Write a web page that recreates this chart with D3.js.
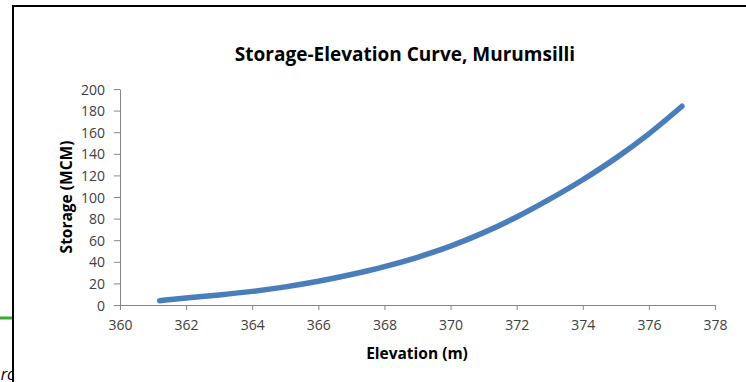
<!DOCTYPE html>
<html>
<head>
<meta charset="utf-8">
<script src="https://cdn.jsdelivr.net/npm/d3@7"></script>
<style>
  html, body { margin: 0; padding: 0; background: #fff; }
  svg { display: block; }
  text { font-family: "Open Sans", "Liberation Sans", sans-serif; }
</style>
</head>
<body>
<svg id="chart" width="746" height="382"></svg>
<script>
// Storage-elevation relationship for the Murumsilli reservoir
const elevation = [361.2, 362, 363, 364, 365, 366, 367, 368, 369, 370, 371, 372, 373, 374, 375, 376, 377];
const storage   = [4, 6.5, 9.3, 12.6, 16.8, 22, 28.2, 35.5, 44.2, 54.5, 67, 81.5, 98, 116, 136, 158.5, 184];
const xTicks = [360, 362, 364, 366, 368, 370, 372, 374, 376, 378];
const yTicks = [0, 20, 40, 60, 80, 100, 120, 140, 160, 180, 200];

const svg = d3.select("#chart");
const plot = { left: 120, right: 715, top: 89, bottom: 305 };

const x = d3.scaleLinear().domain([360, 378]).range([plot.left, plot.right]);
const y = d3.scaleLinear().domain([0, 200]).range([plot.bottom, plot.top]);

// partial caption text sitting left of the chart frame
svg.append("text")
  .attr("x", 16).attr("y", 380)
  .attr("text-anchor", "end")
  .attr("font-size", 16).attr("font-style", "italic").attr("fill", "#000")
  .text("ro");

// green rule left of the frame
svg.append("line")
  .attr("x1", 0).attr("x2", 13).attr("y1", 318).attr("y2", 318)
  .attr("stroke", "#3aa935").attr("stroke-width", 3);

// chart frame
svg.append("rect")
  .attr("x", 13).attr("y", 6).attr("width", 900).attr("height", 600)
  .attr("fill", "#fff").attr("stroke", "#000").attr("stroke-width", 2);

const axisColor = "#868686";

// y axis
const yAxis = svg.append("g")
  .attr("transform", `translate(${plot.left},0)`)
  .call(d3.axisLeft(y).tickValues(yTicks).tickSize(6).tickPadding(9).tickSizeOuter(0));
// x axis
const xAxis = svg.append("g")
  .attr("transform", `translate(0,${plot.bottom})`)
  .call(d3.axisBottom(x).tickValues(xTicks).tickSize(5).tickPadding(10).tickSizeOuter(0));

[yAxis, xAxis].forEach(g => {
  g.select(".domain").attr("stroke", axisColor).attr("stroke-width", 1);
  g.selectAll(".tick line").attr("stroke", axisColor);
  g.selectAll(".tick text")
    .attr("fill", "#404040")
    .style("font-family", '"Open Sans", sans-serif')
    .style("font-size", "14px");
});
yAxis.selectAll(".tick text").attr("dy", "0.36em");

// storage curve
const line = d3.line()
  .x((d, i) => x(elevation[i]))
  .y(d => y(d))
  .curve(d3.curveMonotoneX);

svg.append("path")
  .datum(storage)
  .attr("d", line)
  .attr("fill", "none")
  .attr("stroke", "#4a7ebb")
  .attr("stroke-width", 5.5)
  .attr("stroke-linecap", "round")
  .attr("stroke-linejoin", "round");

// titles
svg.append("text")
  .attr("x", 405).attr("y", 61)
  .attr("text-anchor", "middle")
  .attr("font-size", 19).attr("font-weight", "bold").attr("fill", "#000")
  .text("Storage-Elevation Curve, Murumsilli");

svg.append("text")
  .attr("x", 417).attr("y", 359)
  .attr("text-anchor", "middle")
  .attr("font-size", 15.5).attr("font-weight", "bold").attr("fill", "#000")
  .text("Elevation (m)");

svg.append("text")
  .attr("transform", "translate(72,197) rotate(-90)")
  .attr("text-anchor", "middle")
  .attr("font-size", 15.5).attr("font-weight", "bold").attr("fill", "#000")
  .text("Storage (MCM)");
</script>
</body>
</html>
